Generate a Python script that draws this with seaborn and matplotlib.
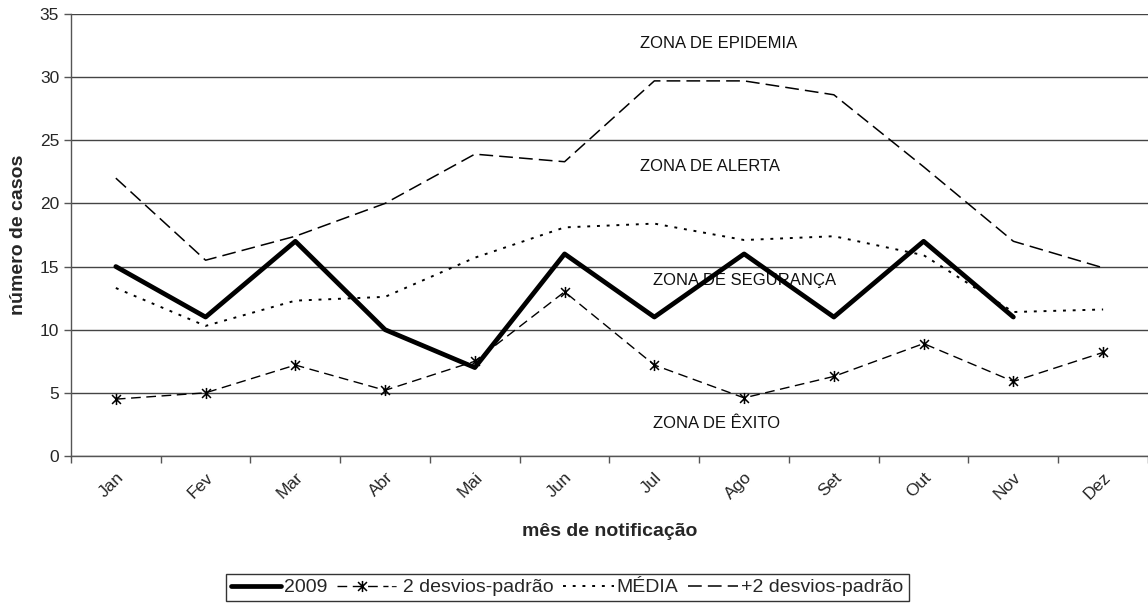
import numpy as np
import pandas as pd
import matplotlib
matplotlib.use("Agg")
import matplotlib.pyplot as plt
from matplotlib.path import Path
import seaborn as sns

sns.set_style("white")
plt.rcParams['font.family'] = ['Liberation Sans', 'DejaVu Sans']

meses = ["Jan", "Fev", "Mar", "Abr", "Mai", "Jun", "Jul", "Ago", "Set", "Out", "Nov", "Dez"]
casos_2009 = [15, 11, 17, 10, 7, 16, 11, 16, 11, 17, 11]
menos_2dp = [4.5, 5.0, 7.2, 5.2, 7.5, 13.0, 7.2, 4.6, 6.3, 8.9, 5.9, 8.2]
media = [13.3, 10.3, 12.3, 12.6, 15.7, 18.1, 18.4, 17.1, 17.4, 15.9, 11.4, 11.6]
mais_2dp = [22.0, 15.5, 17.4, 20.0, 23.9, 23.3, 29.7, 29.7, 28.6, 22.9, 17.0, 14.9]

zonas = ["ZONA DE EPIDEMIA", "ZONA DE ALERTA", "ZONA DE SEGURANÇA", "ZONA DE ÊXITO"]
zonas_y = [32.7, 22.9, 13.9, 2.6]
zonas_x = [5.84, 5.84, 5.98, 5.98]

x_all = np.arange(len(meses))

# asterisco: X + traço vertical (como no Excel)
ast = Path([(-0.8, -0.8), (0.8, 0.8), (-0.8, 0.8), (0.8, -0.8), (0, -1), (0, 1)],
           [Path.MOVETO, Path.LINETO, Path.MOVETO, Path.LINETO, Path.MOVETO, Path.LINETO])

fig = plt.figure(figsize=(11.48, 6.07), dpi=100)
ax = fig.add_axes([0.0618, 0.2488, 0.9382, 0.7282])

for y in range(0, 36, 5):
    ax.axhline(y, color="#444444", lw=1.0, zorder=0)

for txt, zx, zy in zip(zonas, zonas_x, zonas_y):
    ax.text(zx, zy, txt, fontsize=12, ha="left", va="center", color="#111111")

sns.lineplot(x=x_all[:len(casos_2009)], y=casos_2009, ax=ax, color="black", lw=3.4,
             label="2009", zorder=5)
sns.lineplot(x=x_all, y=menos_2dp, ax=ax, color="black", lw=1.0, marker=ast,
             markersize=8, markeredgewidth=1.1, markeredgecolor="black",
             dashes=(7, 4), label="- 2 desvios-padrão", zorder=4)
sns.lineplot(x=x_all, y=media, ax=ax, color="black", lw=1.4, dashes=(1.5, 3.5),
             label="MÉDIA", zorder=3)
sns.lineplot(x=x_all, y=mais_2dp, ax=ax, color="black", lw=1.1, dashes=(9, 4),
             label="+2 desvios-padrão", zorder=3)

ax.set_xlim(-0.5, 11.39)
ax.set_ylim(0, 35)
ax.set_yticks(range(0, 36, 5))
ax.set_xticks(x_all)
ax.set_xticklabels(meses, rotation=45, ha="right", rotation_mode="anchor", fontsize=12.5)
ax.set_xticks(np.arange(-0.5, 12, 1), minor=True)
ax.tick_params(axis="x", which="major", length=0, pad=10)
ax.tick_params(axis="x", which="minor", length=5, width=1, color="#555555", direction="out", bottom=True)
ax.tick_params(axis="y", length=5, width=1, color="#555555", direction="out", left=True, labelsize=12.5)

for s in ["top", "right"]:
    ax.spines[s].set_visible(False)
for s in ["left", "bottom"]:
    ax.spines[s].set_color("#555555")
    ax.spines[s].set_linewidth(1.0)

ax.set_xlabel("mês de notificação", fontsize=14, fontweight="bold", labelpad=15)
ax.set_ylabel("número de casos", fontsize=14, fontweight="bold", labelpad=9)

handles, labels = ax.get_legend_handles_labels()
ax.get_legend().remove()
leg = fig.legend(handles, labels, loc="center", bbox_to_anchor=(0.494, 0.032), ncol=4,
                 fontsize=14, frameon=True, fancybox=False, edgecolor="black",
                 handlelength=2.6, handletextpad=0.15, columnspacing=0.5, borderpad=0.25)
leg.get_frame().set_linewidth(1.0)

fig.savefig("out.png", dpi=100)
